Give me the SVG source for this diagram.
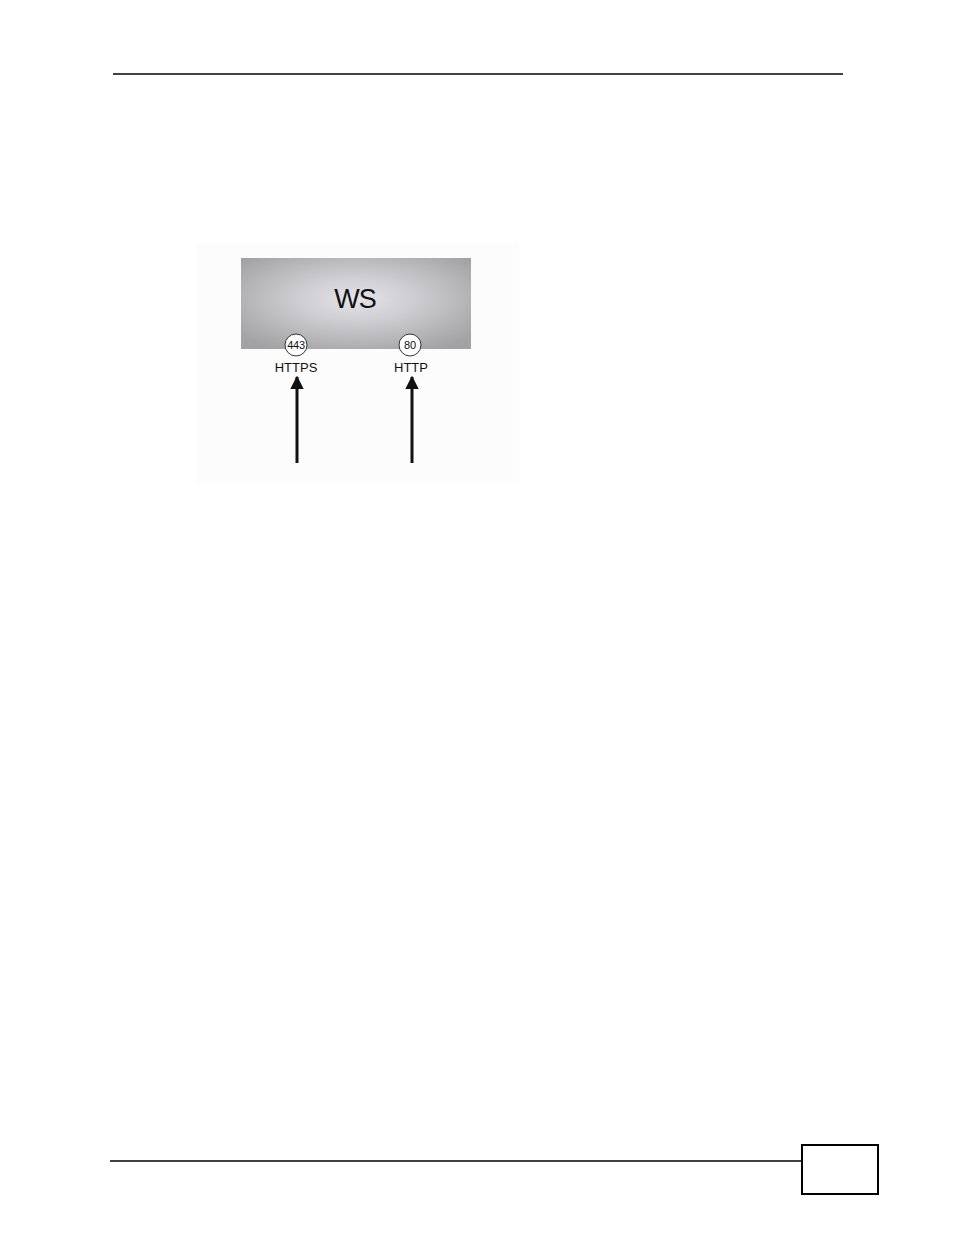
<svg xmlns="http://www.w3.org/2000/svg" width="954" height="1235" viewBox="0 0 954 1235">
<style>
.lbl{font-family:"Liberation Sans",Arial,sans-serif;fill:#111}
.rule{stroke:#000;stroke-width:1.5}
</style>
<defs>
<radialGradient id="g" cx="0.5" cy="0.45" r="0.65">
<stop offset="0" stop-color="#e4e3e8"/>
<stop offset="0.35" stop-color="#d0cfd3"/>
<stop offset="1" stop-color="#a2a2a4"/>
</radialGradient>
<marker id="ah" viewBox="0 0 10 10" refX="9" refY="5" markerWidth="4.5" markerHeight="4.5" orient="auto" markerUnits="strokeWidth">
<path d="M0,0 L10,5 L0,10 z" fill="#111"/>
</marker>
</defs>
<rect width="954" height="1235" fill="#fff"/>
<line class="rule" x1="113" y1="74" x2="843" y2="74"/>
<line class="rule" x1="110" y1="1161" x2="802" y2="1161"/>
<rect x="802" y="1145" width="76" height="49" fill="none" stroke="#000" stroke-width="2"/>
<rect x="196" y="243" width="323" height="240" fill="#fcfcfc"/>
<g id="ws">
<rect x="241" y="258" width="230" height="91" fill="url(#g)"/>
<text class="lbl" x="355" y="308" font-size="27" letter-spacing="-1" text-anchor="middle">WS</text>
</g>
<g id="port443">
<circle cx="296" cy="345" r="11" fill="#fff" stroke="#333" stroke-width="1"/>
<text class="lbl" x="296" y="349" font-size="11" letter-spacing="-0.3" text-anchor="middle">443</text>
<text class="lbl" x="296" y="372" font-size="13" text-anchor="middle">HTTPS</text>
</g>
<g id="port80">
<circle cx="410" cy="345" r="11" fill="#fff" stroke="#333" stroke-width="1"/>
<text class="lbl" x="410" y="349" font-size="11" text-anchor="middle">80</text>
<text class="lbl" x="411" y="372" font-size="13" text-anchor="middle">HTTP</text>
</g>
<g id="connectors" stroke="#111" stroke-width="3" fill="none">
<line x1="297" y1="463" x2="297" y2="377" marker-end="url(#ah)"/>
<line x1="412" y1="463" x2="412" y2="377" marker-end="url(#ah)"/>
</g>
</svg>
